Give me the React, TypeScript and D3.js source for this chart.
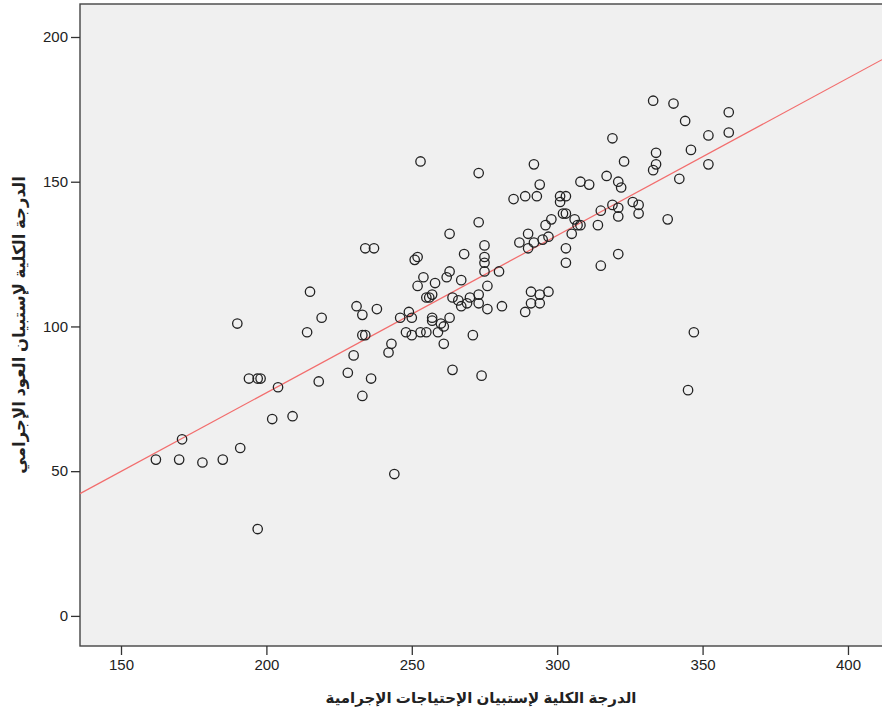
import React, { useEffect, useRef } from 'react';
import * as d3 from 'd3';

// total score on the criminal needs scale (x) vs. recidivism scale (y)
const needsScores = [
  162, 170, 171, 178, 185, 190, 191, 194, 197, 198, 197, 202, 204, 209, 214, 215,
  218, 219, 228, 230, 231, 233, 233, 234, 233, 234, 237, 236, 238, 242, 243, 244,
  246, 248, 249, 250, 250, 251, 252, 253, 252, 253, 254, 255, 255, 256, 257, 257,
  257, 258, 259, 260, 261, 261, 262, 263, 263, 263, 264, 264, 266, 267, 267, 268,
  269, 270, 271, 273, 273, 273, 273, 274, 275, 275, 275, 275, 276, 276, 280, 281,
  285, 287, 289, 289, 290, 290, 291, 291, 292, 292, 293, 294, 294, 294, 295, 297,
  297, 298, 296, 301, 301, 302, 303, 303, 303, 303, 305, 306, 307, 308, 308, 311,
  314, 315, 315, 317, 319, 319, 321, 321, 321, 322, 323, 321, 326, 328, 328,
  333, 333, 334, 334, 338, 340, 342, 344, 345, 346, 347, 352, 352, 359, 359,
];

const recidivismScores = [
  54, 54, 61, 53, 54, 101, 58, 82, 82, 82, 30, 68, 79, 69, 98, 112,
  81, 103, 84, 90, 107, 104, 97, 97, 76, 127, 127, 82, 106, 91, 94, 49,
  103, 98, 105, 103, 97, 123, 124, 157, 114, 98, 117, 110, 98, 110, 103, 102,
  111, 115, 98, 101, 100, 94, 117, 119, 132, 103, 110, 85, 109, 107, 116, 125,
  108, 110, 97, 111, 108, 153, 136, 83, 128, 124, 122, 119, 114, 106, 119, 107,
  144, 129, 145, 105, 132, 127, 112, 108, 129, 156, 145, 149, 108, 111, 130, 112,
  131, 137, 135, 145, 143, 139, 139, 145, 127, 122, 132, 137, 135, 135, 150, 149,
  135, 140, 121, 152, 165, 142, 141, 138, 150, 148, 157, 125, 143, 142, 139,
  178, 154, 156, 160, 137, 177, 151, 171, 78, 161, 98, 166, 156, 174, 167,
];

const xTicks = [150, 200, 250, 300, 350, 400];
const yTicks = [0, 50, 100, 150, 200];

const xTitle = 'الدرجة الكلية لإستبيان الإحتياجات الإجرامية';
const yTitle = 'الدرجة الكلية لإستبيان العود الإجرامي';

const ScatterChart = () => {
  const svgRef = useRef<SVGSVGElement>(null);

  useEffect(() => {
    const svg = d3.select(svgRef.current);
    svg.selectAll('*').remove();

    const width = 882;
    const height = 718;
    const plot = { left: 80, top: 4, right: 884, bottom: 646 };
    const font = 'Arial, "Liberation Sans", "DejaVu Sans", sans-serif';

    const x = d3.scaleLinear().domain([135.9, 411.7]).range([plot.left, 882]);
    const y = d3.scaleLinear().domain([-10.4, 211.4]).range([plot.bottom, plot.top]);

    svg.attr('width', width).attr('height', height);

    svg.append('rect')
      .attr('x', plot.left)
      .attr('y', plot.top)
      .attr('width', plot.right - plot.left)
      .attr('height', plot.bottom - plot.top)
      .attr('fill', '#f0f0f0')
      .attr('stroke', '#444')
      .attr('stroke-width', 1.4);

    // axes
    const xAxis = svg.append('g')
      .attr('transform', `translate(0,${plot.bottom})`)
      .call(d3.axisBottom(x).tickValues(xTicks).tickSize(9).tickPadding(4).tickSizeOuter(0));
    xAxis.select('.domain').remove();

    const yAxis = svg.append('g')
      .attr('transform', `translate(${plot.left},0)`)
      .call(d3.axisLeft(y).tickValues(yTicks).tickSize(9).tickPadding(3).tickSizeOuter(0));
    yAxis.select('.domain').remove();

    svg.selectAll('.tick line').attr('stroke', '#333').attr('stroke-width', 1.3);
    svg.selectAll('.tick text')
      .attr('fill', '#222')
      .style('font-family', font)
      .style('font-size', '15px');

    // fit line (least squares)
    const n = needsScores.length;
    const mx = d3.mean(needsScores) as number;
    const my = d3.mean(recidivismScores) as number;
    let sxy = 0;
    let sxx = 0;
    for (let i = 0; i < n; i++) {
      sxy += (needsScores[i] - mx) * (recidivismScores[i] - my);
      sxx += (needsScores[i] - mx) ** 2;
    }
    const slope = sxy / sxx;
    const intercept = my - slope * mx;
    const [x0, x1] = x.domain();

    const plotArea = svg.append('g');

    plotArea.append('line')
      .attr('x1', x(x0))
      .attr('y1', y(intercept + slope * x0))
      .attr('x2', x(x1))
      .attr('y2', y(intercept + slope * x1))
      .attr('stroke', '#f26d6d')
      .attr('stroke-width', 1.2);

    plotArea.selectAll('circle')
      .data(needsScores.map((v, i) => [v, recidivismScores[i]]))
      .enter()
      .append('circle')
      .attr('cx', d => x(d[0]))
      .attr('cy', d => y(d[1]))
      .attr('r', 4.7)
      .attr('fill', 'none')
      .attr('stroke', '#222')
      .attr('stroke-width', 1.3);

    // titles
    svg.append('text')
      .attr('x', 481)
      .attr('y', 703)
      .attr('text-anchor', 'middle')
      .attr('direction', 'rtl')
      .attr('fill', '#222')
      .style('font-family', font)
      .style('font-weight', 'bold')
      .style('font-size', '15px')
      .text(xTitle);

    svg.append('text')
      .attr('transform', `translate(25,${325}) rotate(-90)`)
      .attr('text-anchor', 'middle')
      .attr('direction', 'rtl')
      .attr('fill', '#222')
      .style('font-family', font)
      .style('font-weight', 'bold')
      .style('font-size', '16.5px')
      .text(yTitle);
  }, []);

  return <svg ref={svgRef}></svg>;
};

export default function App() {
  return (
    <div style={{ position: 'absolute', left: 0, top: 0, background: '#fff' }}>
      <ScatterChart />
    </div>
  );
}
